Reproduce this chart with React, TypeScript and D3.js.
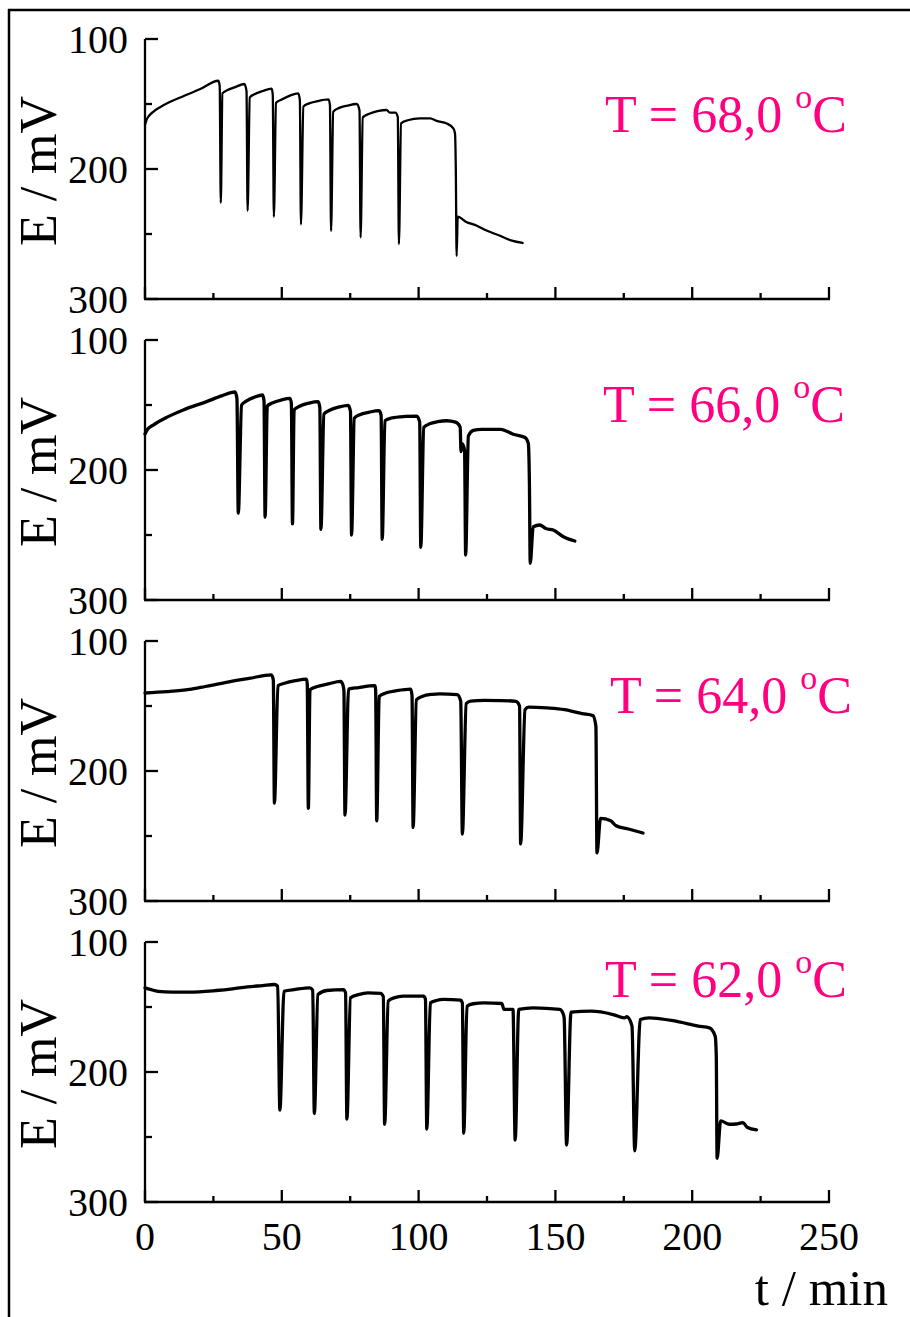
import React from "react";
import * as d3 from "d3";

// ---- data: [t (min), E (mV)] ----
const temps = ["68,0", "66,0", "64,0", "62,0"];

const trace68: [number, number][] = [
  [0, 166], [0.6, 162], [1.5, 159], [3.0, 156], [5.5, 152.5], [9, 148.5], [14, 144], [20, 138.7], [26.8, 132.1],
  [27.3, 136], [27.7, 226], [28.3, 141.8], [30, 139.5], [33, 137], [36.3, 134.6],
  [37.1, 140], [37.5, 232.1], [38.3, 144.9], [40, 142.5], [43, 140], [46.3, 138.2],
  [46.7, 143], [47.1, 236.7], [47.9, 149], [50, 146.5], [53, 143.5], [56.0, 141.8],
  [56.6, 147], [57.0, 242.6], [57.9, 152], [60, 149.5], [63, 147.8], [67.1, 146.4],
  [67.6, 151], [68.0, 247.7], [68.8, 155.9], [71, 153], [74, 151.2], [77.4, 150],
  [78.4, 155], [78.8, 252.6], [79.6, 160.3], [82, 157.5], [85, 155.5], [88.3, 154.6], [89.5, 156.7], [91.5, 156.7],
  [92.4, 160], [92.8, 257.7], [93.6, 164.9], [96, 162.5], [100.5, 161], [104.2, 161], [106.6, 163],
  [110.3, 165], [112.7, 168.7], [113.3, 172.6], [113.6, 200], [113.9, 267], [114.3, 236.7],
  [117.2, 240.5], [121.3, 243.6], [124.4, 246.9], [129.3, 251], [134.1, 255.1], [138, 256.9],
];

const trace66: [number, number][] = [
  [0, 172.3], [1, 168.5], [3, 165.4], [7.9, 159.5], [14, 153.8], [22.5, 147.4], [28, 143], [32.9, 140],
  [33.6, 145], [34.1, 233.3], [35.3, 150], [37, 147], [40, 144], [43.0, 142.3],
  [43.5, 147], [43.9, 236.4], [44.7, 150.8], [46.5, 148.5], [50, 146], [53.0, 144.9],
  [53.5, 149], [53.9, 241.5], [54.5, 153.8], [56.5, 151], [60, 148.5], [63.3, 147.4],
  [63.9, 152], [64.3, 245.6], [65.4, 156.9], [67.5, 154], [71, 151.5], [74.3, 150.3],
  [75.1, 155], [75.5, 250], [76.5, 160.2], [78.5, 157.5], [82, 155.5], [85.6, 154.4],
  [86.3, 158], [86.7, 253.3], [87.7, 162.1], [90, 160], [95, 158.8], [99.3, 158.5],
  [100.4, 163], [100.8, 259.5], [101.9, 167.2], [104, 164.5], [107, 162.8], [110.3, 162.1], [113.5, 163.2], [115.2, 167],
  [115.5, 185.9], [116.0, 180], [116.8, 185],
  [117.2, 265.4], [118.2, 173.8], [120, 169.5], [123, 168.7], [130, 168.7], [134.6, 172.5], [138.9, 175], [140.1, 179.5],
  [140.5, 210], [140.8, 271.8], [141.9, 243.6], [144.3, 242.3], [146.5, 245], [149.2, 246.2], [152.9, 251.3], [157.1, 254.6],
];

const trace64: [number, number][] = [
  [0, 140], [8, 139], [16.2, 137.3], [22, 135], [29.2, 132], [38, 128.8], [46.2, 126],
  [46.9, 130], [47.3, 224.7], [48.6, 134.4], [51, 132.5], [55, 130.5], [59.0, 129.3],
  [59.3, 133], [59.7, 228.8], [60.3, 137.5], [63, 135], [67, 133], [71.5, 131.1], [72.3, 133.5],
  [72.7, 138], [73.1, 233.9], [74.4, 137], [78, 135.8], [84.1, 134.4],
  [84.3, 138], [84.7, 238.3], [85.6, 142.6], [88, 140], [92, 138.2], [97.1, 137],
  [97.6, 142], [98.0, 243.4], [99.2, 145.2], [101.5, 142.5], [105, 141], [107.6, 140.6], [114.1, 141.3], [115.4, 146.4],
  [116.0, 248.5], [117.4, 148.2], [119, 146.2], [124, 145.7], [130, 145.8], [135.6, 146.4], [136.9, 150],
  [137.3, 256.1], [138.9, 152.8], [140.2, 150.8], [147, 151.5], [153.3, 152.8], [159.8, 155.9], [163.7, 157.4], [164.8, 165.6],
  [165.2, 263], [166.5, 236.5], [170.2, 238.3], [172.2, 242.1], [176.7, 244.6], [182.0, 247.7],
];

const trace62: [number, number][] = [
  [0, 135.3], [2, 136.5], [4.8, 137.9], [10, 138.5], [16.2, 138.6], [26.0, 137.3], [32, 136], [37.4, 134.5],
  [43, 133.5], [47.2, 132.7], [48.5, 134],
  [49.3, 229.4], [50.8, 137.9], [55, 136.5], [60.2, 135.3], [61.3, 137],
  [61.9, 232], [63.2, 140.4], [66.4, 137.3], [72.5, 136.6], [73.3, 139],
  [73.8, 236.3], [75.1, 143], [78, 140.5], [81.5, 139.1], [86.1, 139.6], [87.1, 142],
  [87.6, 240.2], [88.9, 145.5], [91, 143], [94.5, 141.7], [101.8, 141.7], [102.5, 144],
  [103.0, 244], [104.3, 146.8], [106.5, 145], [109.2, 144.2], [115.3, 144.7], [116.0, 147],
  [116.5, 247.1], [117.7, 149.4], [120, 147.5], [123.9, 146.8], [130.4, 147.3], [131.2, 151.9], [134.5, 151.9],
  [135.3, 252.4], [136.6, 151.9], [141.8, 150.6], [151.6, 151.9], [152.8, 155], [153.2, 158.3],
  [154.1, 256.3], [155.7, 154], [163, 153.2], [171.1, 155.8], [175.2, 158.3], [176.1, 157.5], [178.0, 164.7],
  [179.0, 260.6], [181.0, 159.6], [184.2, 158.3], [194, 160.9], [202.2, 164.7], [206.3, 166], [208.4, 172.4], [208.8, 187.7],
  [209.1, 266.5], [210.4, 237.6], [213.6, 240.2], [216, 240], [218.5, 238.9], [220.2, 242.7], [223.5, 244.5],
];

const traces = [trace68, trace66, trace64, trace62];
const xMajorTicks = [0, 50, 100, 150, 200, 250];
const xMinorTicks = [25, 75, 125, 175, 225];
const yMajorTicks = [100, 200, 300];
const yMinorTicks = [150, 250];

// ---- layout ----
const W = 910;
const H = 1317;
const panelTops = [39, 340, 641, 942];
const panelH = 260;
const xLeft = 145;
const xRight = 829;
const labelPos = [
  { x: 605, y: 132 },
  { x: 603, y: 422 },
  { x: 610, y: 713 },
  { x: 605, y: 997 },
];
const lineWidths = [2.3, 3.3, 3.3, 3.3];
const FONT = "'Liberation Serif', 'Times New Roman', Times, serif";
const PINK = "#ff0080";

export default function App() {
  const x = d3.scaleLinear().domain([0, 250]).range([xLeft, xRight]);
  return (
    <svg
      width={W}
      height={H}
      viewBox={`0 0 ${W} ${H}`}
      style={{ position: "absolute", left: 0, top: 0, background: "#fff" }}
      fontFamily={FONT}
    >
      <rect x={0} y={0} width={W} height={H} fill="#fff" />
      {/* frame */}
      <line x1={8} x2={W} y1={10} y2={10} stroke="#000" strokeWidth={2.5} />
      <line x1={9} x2={9} y1={9} y2={H} stroke="#000" strokeWidth={2.5} />
      {traces.map((tr, i) => {
        const top = panelTops[i];
        const y = d3.scaleLinear().domain([100, 300]).range([top, top + panelH]);
        const line = d3
          .line<[number, number]>()
          .x((d) => x(d[0]))
          .y((d) => y(d[1]))
          .curve(d3.curveMonotoneX);
        const bottom = y(300);
        return (
          <g key={i}>
            {/* axes */}
            <line x1={xLeft} x2={xLeft} y1={y(100)} y2={bottom} stroke="#000" strokeWidth={2.3} />
            <line x1={xLeft - 1} x2={xRight + 1} y1={bottom} y2={bottom} stroke="#000" strokeWidth={2.3} />
            {xMajorTicks.map((t) => (
              <line key={"xm" + t} x1={x(t)} x2={x(t)} y1={bottom} y2={bottom - 12} stroke="#000" strokeWidth={2.3} />
            ))}
            {xMinorTicks.map((t) => (
              <line key={"xn" + t} x1={x(t)} x2={x(t)} y1={bottom} y2={bottom - 6} stroke="#000" strokeWidth={2.3} />
            ))}
            {yMajorTicks.map((v) => (
              <line key={"ym" + v} x1={xLeft} x2={xLeft + 13} y1={y(v)} y2={y(v)} stroke="#000" strokeWidth={2.3} />
            ))}
            {yMinorTicks.map((v) => (
              <line key={"yn" + v} x1={xLeft} x2={xLeft + 7} y1={y(v)} y2={y(v)} stroke="#000" strokeWidth={2.3} />
            ))}
            {yMajorTicks.map((v) => (
              <text key={"yl" + v} x={128} y={y(v) + 14} fontSize={40} textAnchor="end" fill="#000">
                {v}
              </text>
            ))}
            <text
              transform={`translate(56, ${top + panelH / 2 + 2}) rotate(-90)`}
              fontSize={52}
              textAnchor="middle"
              fill="#000"
            >
              E / mV
            </text>
            {/* trace */}
            <path
              d={line(tr) || ""}
              fill="none"
              stroke="#000"
              strokeWidth={lineWidths[i]}
              strokeLinejoin="round"
              strokeLinecap="round"
            />
            {/* temperature label */}
            <text x={labelPos[i].x} y={labelPos[i].y} fontSize={52} fill={PINK}>
              {`T = ${temps[i]} `}
              <tspan fontSize={34} dy={-24}>o</tspan>
              <tspan fontSize={52} dy={24}>C</tspan>
            </text>
            {i === traces.length - 1 &&
              xMajorTicks.map((t) => (
                <text key={"xl" + t} x={x(t)} y={bottom + 48} fontSize={40} textAnchor="middle" fill="#000">
                  {t}
                </text>
              ))}
          </g>
        );
      })}
      <text x={888} y={1305} fontSize={51} textAnchor="end" fill="#000">
        t / min
      </text>
    </svg>
  );
}
